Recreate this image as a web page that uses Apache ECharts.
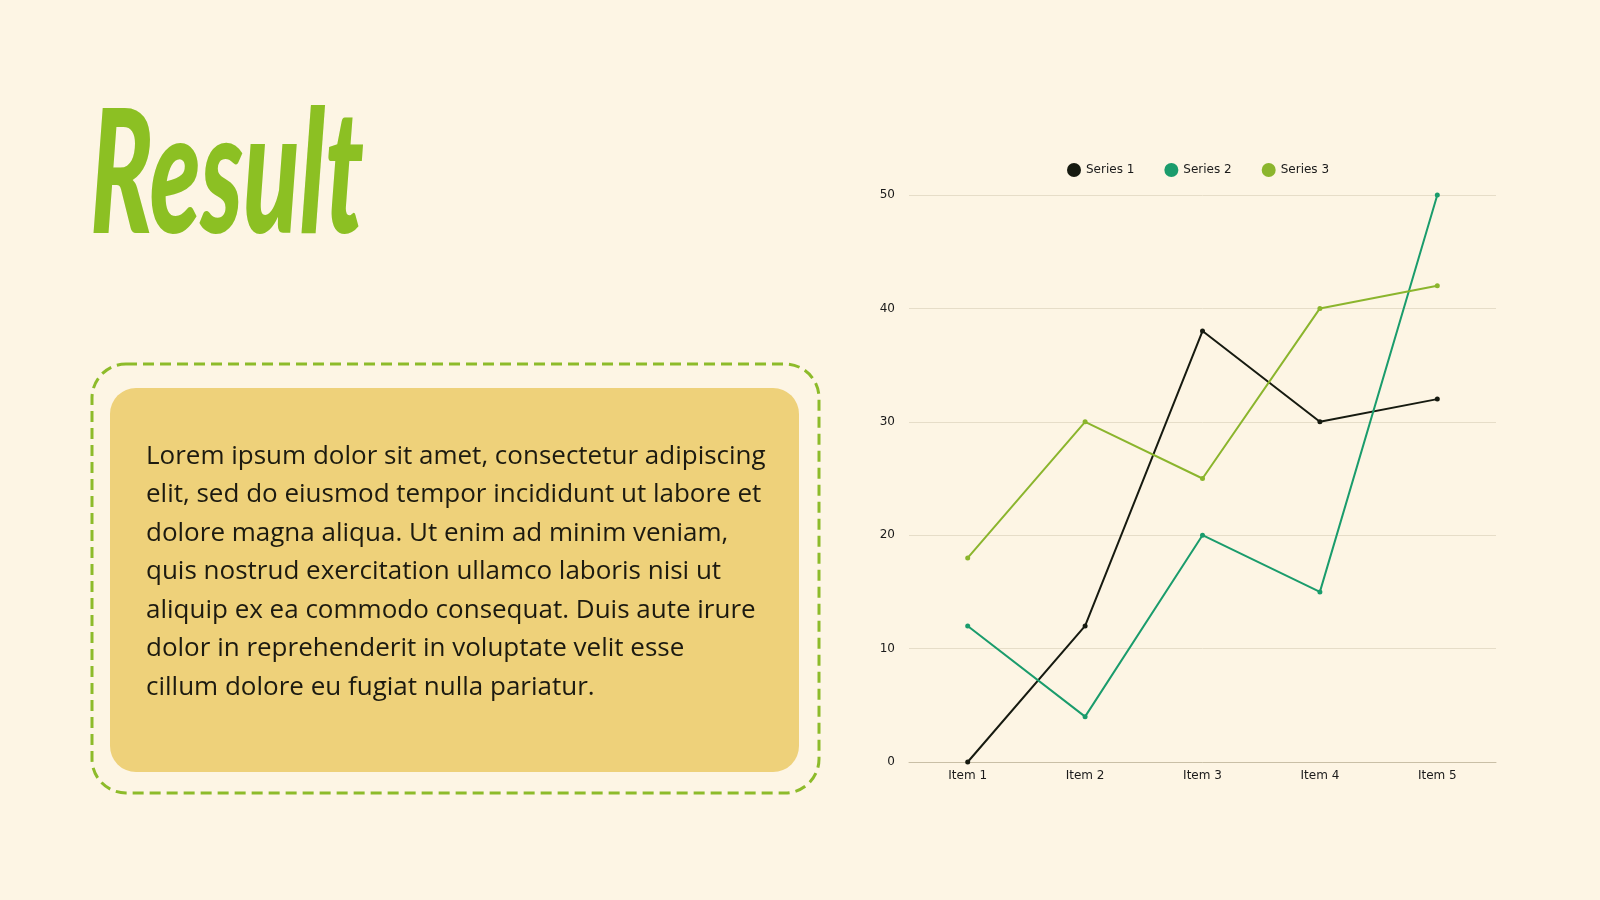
<!DOCTYPE html>
<html style="height: 100%">
<head>
	<meta charset="utf-8">
	<title>Result</title>
	<script type="text/javascript" src="https://cdn.jsdelivr.net/npm/echarts/dist/echarts.min.js"></script>
</head>
<body style="height: 100%; margin: 0; background: #fdf5e4">
<div id="container" style="width: 1600px; height: 900px"></div>
<script type="text/javascript">
	var categories = ['Item 1', 'Item 2', 'Item 3', 'Item 4', 'Item 5'];
	var series1 = [0, 12, 38, 30, 32];
	var series2 = [12, 4, 20, 15, 50];
	var series3 = [18, 30, 25, 40, 42];
	var seriesNames = ['Series 1', 'Series 2', 'Series 3'];
	var colors = ['#161a10', '#1a9c6c', '#8bb52d'];
	var bodyLines = [
		'Lorem ipsum dolor sit amet, consectetur adipiscing',
		'elit, sed do eiusmod tempor incididunt ut labore et',
		'dolore magna aliqua. Ut enim ad minim veniam,',
		'quis nostrud exercitation ullamco laboris nisi ut',
		'aliquip ex ea commodo consequat. Duis aute irure',
		'dolor in reprehenderit in voluptate velit esse',
		'cillum dolore eu fugiat nulla pariatur.'
	];

	var dom = document.getElementById('container');
	var myChart = echarts.init(dom);

	function makeSeries(name, data, color) {
		return {
			name: name,
			type: 'line',
			data: data,
			symbol: 'circle',
			symbolSize: 5,
			lineStyle: {color: color, width: 2},
			itemStyle: {color: color}
		};
	}

	var option = {
		backgroundColor: '#fdf5e4',
		color: colors,
		textStyle: {fontFamily: 'DejaVu Sans'},
		legend: {
			data: seriesNames,
			left: 1062,
			top: 158,
			icon: 'circle',
			itemWidth: 14,
			itemHeight: 14,
			itemGap: 30,
			textStyle: {fontSize: 12, color: '#1a1a1a'}
		},
		grid: {left: 909, right: 104, top: 195, bottom: 138, containLabel: false},
		xAxis: {
			type: 'category',
			data: categories,
			axisTick: {show: false},
			axisLine: {lineStyle: {color: '#c9bfa6'}},
			axisLabel: {color: '#1a1a1a', fontSize: 12, margin: 8}
		},
		yAxis: {
			type: 'value',
			min: 0,
			max: 50,
			interval: 10,
			axisLine: {show: false},
			axisTick: {show: false},
			axisLabel: {color: '#1a1a1a', fontSize: 12, margin: 14},
			splitLine: {lineStyle: {color: '#e6ddc8'}}
		},
		graphic: [
			{
				type: 'text',
				x: 90,
				y: 92,
				scaleX: 0.63,
				scaleY: 1.04,
				style: {
					text: 'Result',
					fontFamily: 'Lato',
					fontStyle: 'italic',
					fontWeight: 900,
					fontSize: 165,
					fill: '#8cc023',
					verticalAlign: 'top'
				}
			},
			{
				type: 'rect',
				shape: {x: 92, y: 364, width: 727, height: 429, r: 34},
				style: {fill: 'none', stroke: '#8dbb2a', lineWidth: 3, lineDash: [11, 6]}
			},
			{
				type: 'rect',
				shape: {x: 110, y: 388, width: 689, height: 384, r: 26},
				style: {fill: '#eed17a'}
			},
			{
				type: 'text',
				left: 146,
				top: 437,
				style: {
					text: bodyLines.join('\n'),
					fontFamily: 'Open Sans',
					fontSize: 26,
					lineHeight: 38.5,
					fill: '#1c1a10'
				}
			}
		],
		series: [
			makeSeries(seriesNames[0], series1, colors[0]),
			makeSeries(seriesNames[1], series2, colors[1]),
			makeSeries(seriesNames[2], series3, colors[2])
		]
	};

	myChart.setOption(option);
</script>
</body>
</html>
